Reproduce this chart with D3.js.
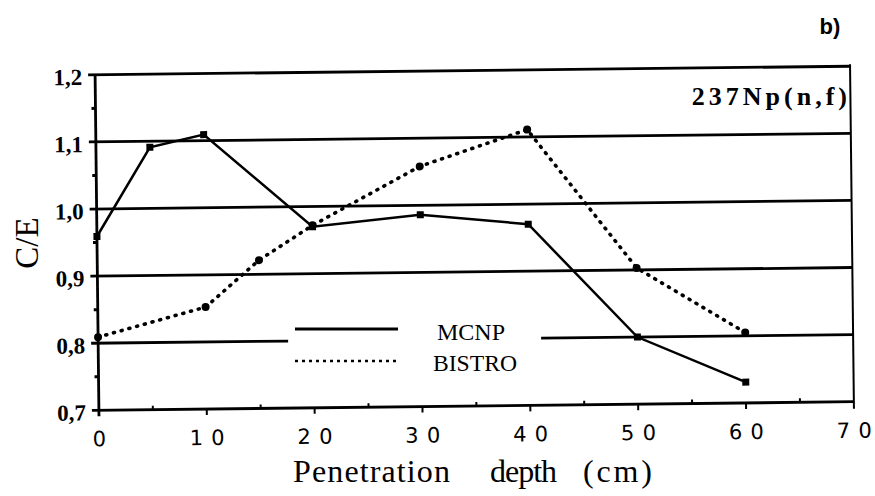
<!DOCTYPE html>
<html>
<head>
<meta charset="utf-8">
<script src="https://cdn.jsdelivr.net/npm/d3@7/dist/d3.min.js"></script>
<style>
  body { margin: 0; background: #fff; }
  svg { display: block; }
  .serif { font-family: "Liberation Serif", "Times New Roman", "DejaVu Serif", serif; }
</style>
</head>
<body>
<svg width="875" height="496"></svg>
<script>
var depth = [0, 5, 10, 20, 30, 40, 50, 60];
var mcnp = [0.959, 1.091, 1.109, 0.970, 0.986, 0.970, 0.800, 0.731];
var bistroDepth = [0, 10, 15, 20, 30, 40, 50, 60];
var bistro = [0.809, 0.852, 0.921, 0.972, 1.058, 1.111, 0.903, 0.805];
var xTicks = [0, 10, 20, 30, 40, 50, 60, 70];
var yTicks = [0.7, 0.8, 0.9, 1.0, 1.1, 1.2];

var svg = d3.select("svg");
var x = d3.scaleLinear().domain([0, 70]).range([97, 852]);
var y = d3.scaleLinear().domain([0.7, 1.2]).range([406, 70.5]);

// the scanned page is slightly tilted
var g = svg.append("g").attr("transform", "rotate(-0.65, 475, 240)");

// horizontal grid lines, the 0.8 one is broken by the legend
yTicks.forEach(function (t) {
    if (Math.abs(t - 0.8) < 1e-6) {
        g.append("line").attr("x1", x(0) - 7).attr("x2", 287)
            .attr("y1", y(t)).attr("y2", y(t))
            .attr("stroke", "#000").attr("stroke-width", 2.8);
        g.append("line").attr("x1", 540).attr("x2", x(70))
            .attr("y1", y(t)).attr("y2", y(t))
            .attr("stroke", "#000").attr("stroke-width", 2.8);
    } else {
        g.append("line").attr("x1", x(0) - 7).attr("x2", x(70))
            .attr("y1", y(t)).attr("y2", y(t))
            .attr("stroke", "#000").attr("stroke-width", 2.8);
    }
});

// left and right frame
g.append("line").attr("x1", x(0)).attr("x2", x(0)).attr("y1", y(1.2)).attr("y2", y(0.7) + 6)
    .attr("stroke", "#000").attr("stroke-width", 2.8);
g.append("line").attr("x1", x(70)).attr("x2", x(70)).attr("y1", y(1.2) - 2).attr("y2", y(0.7) + 7)
    .attr("stroke", "#000").attr("stroke-width", 2);

// minor ticks
d3.range(0.75, 1.2, 0.1).forEach(function (t) {
    g.append("line").attr("x1", x(0) - 4).attr("x2", x(0))
        .attr("y1", y(t)).attr("y2", y(t)).attr("stroke", "#000").attr("stroke-width", 3);
});
d3.range(5, 70, 5).forEach(function (t) {
    g.append("line").attr("x1", x(t)).attr("x2", x(t))
        .attr("y1", y(0.7)).attr("y2", y(0.7) + (t % 10 === 0 ? 6 : -4))
        .attr("stroke", "#000").attr("stroke-width", 2);
});

// tick labels
g.append("g").selectAll("text").data(yTicks).enter().append("text")
    .attr("class", "serif")
    .attr("x", x(0) - 13).attr("y", function (d) { return y(d) + 10; })
    .attr("text-anchor", "end")
    .style("font-size", "23px").style("font-weight", "bold")
    .text(function (d) { return d3.format(".1f")(d).replace(".", ","); });

// wide-set digits on the x axis, spread with textLength so nothing trails
g.append("g").selectAll("text").data(xTicks).enter().append("text")
    .attr("x", function (d) { return x(d); }).attr("y", y(0.7) + 36)
    .attr("text-anchor", "middle")
    .attr("textLength", function (d) { return d > 0 ? 35 : null; })
    .attr("lengthAdjust", "spacing")
    .style("font-family", "'DejaVu Sans', sans-serif").style("font-size", "21px")
    .text(function (d) { return d; });

// series
var line = d3.line().x(function (d) { return x(d[0]); }).y(function (d) { return y(d[1]); });
var mcnpPts = depth.map(function (d, i) { return [d, mcnp[i]]; });
var bistroPts = bistroDepth.map(function (d, i) { return [d, bistro[i]]; });

g.append("path").datum(mcnpPts).attr("d", line)
    .attr("fill", "none").attr("stroke", "#000").attr("stroke-width", 2.5);
g.append("path").datum(bistroPts).attr("d", line)
    .attr("fill", "none").attr("stroke", "#000").attr("stroke-width", 3.6)
    .attr("stroke-linecap", "round").attr("stroke-dasharray", "1,7");

g.append("g").selectAll("rect").data(mcnpPts).enter().append("rect")
    .attr("x", function (d) { return x(d[0]) - 3.5; }).attr("y", function (d) { return y(d[1]) - 3.5; })
    .attr("width", 7).attr("height", 7).attr("fill", "#000");
g.append("g").selectAll("circle").data(bistroPts).enter().append("circle")
    .attr("cx", function (d) { return x(d[0]); }).attr("cy", function (d) { return y(d[1]); })
    .attr("r", 4).attr("fill", "#000");

// legend
svg.append("line").attr("x1", 295).attr("x2", 398).attr("y1", 329).attr("y2", 329)
    .attr("stroke", "#000").attr("stroke-width", 3);
svg.append("line").attr("x1", 295).attr("x2", 398).attr("y1", 361).attr("y2", 361)
    .attr("stroke", "#000").attr("stroke-width", 2.5).attr("stroke-dasharray", "3,4");
svg.append("text").attr("class", "serif").attr("x", 437).attr("y", 340)
    .attr("textLength", 68).attr("lengthAdjust", "spacingAndGlyphs")
    .style("font-size", "23px").text("MCNP");
svg.append("text").attr("class", "serif").attr("x", 433).attr("y", 371)
    .attr("textLength", 84).attr("lengthAdjust", "spacingAndGlyphs")
    .style("font-size", "23px").text("BISTRO");

// titles
svg.append("text").attr("class", "serif")
    .attr("transform", "translate(38,243) rotate(-90)")
    .attr("text-anchor", "middle")
    .style("font-size", "33px")
    .text("C/E");

var xTitle = [["Penetration", 293, 157], ["depth", 490, 67], ["(cm)", 583, 69]];
svg.append("g").selectAll("text").data(xTitle).enter().append("text")
    .attr("class", "serif")
    .attr("x", function (d) { return d[1]; }).attr("y", 482)
    .attr("textLength", function (d) { return d[2]; }).attr("lengthAdjust", "spacing")
    .style("font-size", "32px")
    .text(function (d) { return d[0]; });

svg.append("text").attr("class", "serif")
    .attr("x", 851).attr("y", 105).attr("text-anchor", "end")
    .style("font-size", "26px").style("font-weight", "bold")
    .style("letter-spacing", "4px")
    .text("237Np(n,f)");

svg.append("text").attr("x", 830).attr("y", 34).attr("text-anchor", "middle")
    .style("font-family", "'Liberation Sans', Arial, sans-serif").style("font-size", "22px").style("font-weight", "bold")
    .text("b)");
</script>
</body>
</html>
